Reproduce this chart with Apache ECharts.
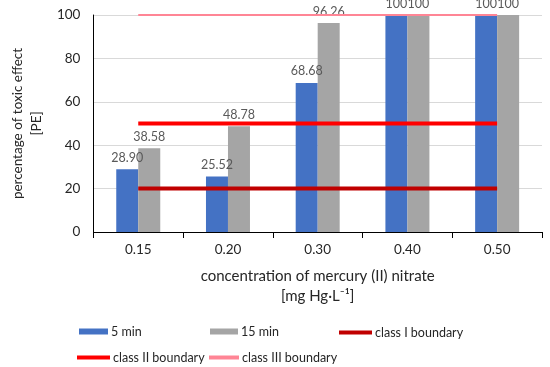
<!DOCTYPE html>
<html><head><meta charset="utf-8">
<script src="https://cdn.jsdelivr.net/npm/echarts@6/dist/echarts.min.js"></script>
<style>html,body{margin:0;padding:0;background:#fff}#c{width:550px;height:367px}</style>
</head><body><div id="c"></div>
<script>
const categories = ['0.15', '0.20', '0.30', '0.40', '0.50'];
const fiveMin = [28.90, 25.52, 68.68, 100, 100];
const fifteenMin = [38.58, 48.78, 96.26, 100, 100];
const classI = [20, 20, 20, 20, 20];
const classII = [50, 50, 50, 50, 50];
const classIII = [100, 100, 100, 100, 100];
const seriesNames = ['5 min', '15 min', 'class I boundary', 'class II boundary', 'class III boundary'];

const FONT = 'Lato';
const fmt = p => Number.isInteger(p.value) ? String(p.value) : p.value.toFixed(2);
const chart = echarts.init(document.getElementById('c'));
const lbl = {show: true, position: 'top', formatter: fmt, color: '#595959', fontFamily: FONT, fontSize: 12.5, distance: 5};
function leg(name, left, top, w, h) {
  return {data: [{name: name, icon: 'rect'}], left: left, top: top, itemWidth: w, itemHeight: h,
    textStyle: {fontFamily: FONT, fontSize: 12.5, color: '#262626', padding: [0,0,0,-2]}, selectedMode: false, padding: 0};
}
chart.setOption({
  animation: false,
  textStyle: {fontFamily: FONT},
  grid: {left: 77, right: 8, top: 15, bottom: 135, containLabel: false},
  legend: [
    leg(seriesNames[0], 79, 325, 29, 6),
    leg(seriesNames[1], 210, 325, 28, 6),
    leg(seriesNames[2], 339, 326, 33, 4),
    leg(seriesNames[3], 77, 351, 33, 4),
    leg(seriesNames[4], 209, 351, 30, 4)
  ],
  xAxis: {
    type: 'category', data: categories,
    axisLine: {lineStyle: {color: '#000', width: 1}},
    axisTick: {show: true, length: 6, lineStyle: {color: '#000'}},
    axisLabel: {color: '#262626', fontFamily: FONT, fontSize: 13.5, margin: 11},
    name: 'concentration of mercury (II) nitrate\n[mg Hg·L⁻¹]',
    nameLocation: 'middle', nameGap: 34,
    nameTextStyle: {color: '#262626', fontFamily: FONT, fontSize: 15, lineHeight: 20}
  },
  yAxis: {
    type: 'value', min: 0, max: 100, interval: 20,
    axisLine: {show: true, lineStyle: {color: '#000', width: 1}},
    axisTick: {show: false},
    splitLine: {lineStyle: {color: '#d9d9d9', width: 1}},
    axisLabel: {color: '#262626', fontFamily: FONT, fontSize: 13.5, margin: 13},
    name: 'percentage of toxic effect\n[PE]',
    nameLocation: 'middle', nameGap: 42,
    nameTextStyle: {color: '#262626', fontFamily: FONT, fontSize: 13.5, lineHeight: 19}
  },
  series: [
    {name: seriesNames[0], type: 'bar', data: fiveMin, barWidth: 22, barGap: '0%', itemStyle: {color: '#4472C4'}, label: lbl, z: 2},
    {name: seriesNames[1], type: 'bar', data: fifteenMin, barWidth: 22, barGap: '0%', itemStyle: {color: '#A5A5A5'}, label: lbl, z: 2},
    {name: seriesNames[2], type: 'line', data: classI, symbol: 'none', lineStyle: {color: '#C00000', width: 4}, itemStyle: {color: '#C00000'}, z: 5},
    {name: seriesNames[3], type: 'line', data: classII, symbol: 'none', lineStyle: {color: '#FF0000', width: 4}, itemStyle: {color: '#FF0000'}, z: 5},
    {name: seriesNames[4], type: 'line', data: classIII, symbol: 'none', lineStyle: {color: '#FF8595', width: 2}, itemStyle: {color: '#FF8595'}, z: 5}
  ]
});
</script></body></html>
